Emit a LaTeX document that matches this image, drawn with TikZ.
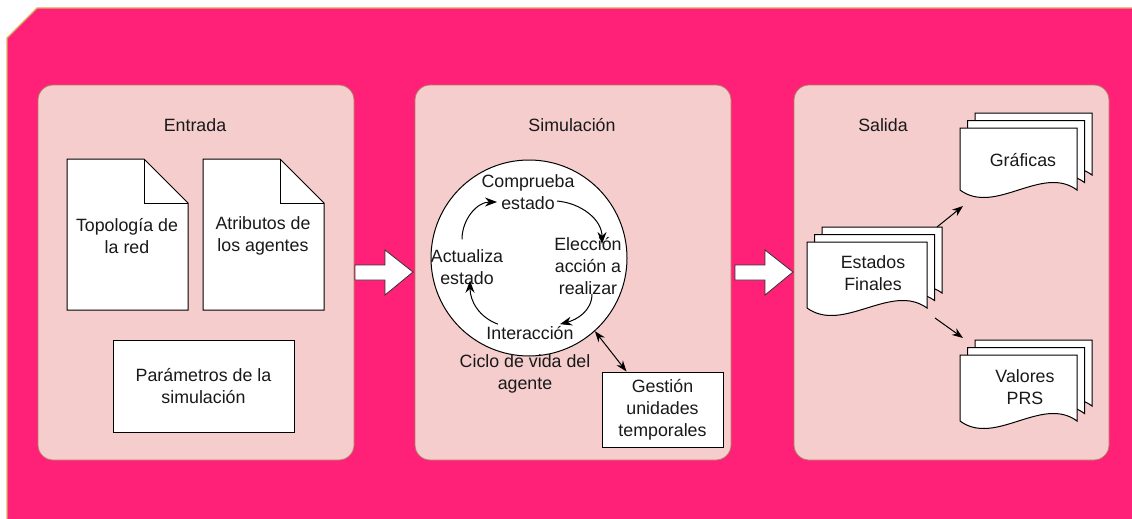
\documentclass[tikz,border=0pt]{standalone}
\usepackage{fontspec}
\setmainfont{Liberation Sans}
\usetikzlibrary{arrows.meta}

\definecolor{fondo}{RGB}{255,32,120}
\definecolor{fondoborde}{RGB}{214,182,96}
\definecolor{panel}{RGB}{245,205,205}
\definecolor{panelborde}{RGB}{184,120,100}

\tikzset{
  panelbox/.style={draw=panelborde, fill=panel, rounded corners=15pt, line width=0.8pt},
  pagebox/.style={draw=black, fill=white, line width=1pt},
  txt/.style={font=\fontsize{17.8}{22}\selectfont, align=center, inner sep=2pt, text=black!90},
  box/.style={txt, draw=black, fill=white, line width=1pt},
  cyc/.style={-{Stealth[length=12pt,width=9pt]}, line width=1pt},
  flecha/.style={-{Stealth[length=11pt,width=8pt]}, line width=1pt},
}

% page with folded corner (x,y = top left)
\newcommand{\foldpage}[2]{%
  \draw[pagebox] (#1,#2) -- ++(77,0) -- ++(44,44) -- ++(0,107) -- ++(-121,0) -- cycle;
  \draw[pagebox, fill=none] (#1+77,#2) -- ++(0,44) -- ++(44,0);}
% page with wavy bottom (x,y,w,h)
\newcommand{\docpage}[4]{%
  \draw[pagebox] (#1,#2) -- ++(#3,0) -- ++(0,#4-8)
    .. controls +(-0.3*#3,-26) and +(0.3*#3,26) .. ++(-#3,0) -- cycle;}
\newcommand{\multidoc}[4]{%
  \docpage{#1+15}{#2-15}{#3}{#4}
  \docpage{#1+7.5}{#2-7.5}{#3}{#4}
  \docpage{#1}{#2}{#3}{#4}}

\begin{document}
\begin{tikzpicture}[x=1pt, y=-1pt]
\useasboundingbox (0,0) rectangle (1132,519);
\fill[white] (0,0) rectangle (1132,519);
% background
\fill[fondo] (7,38) -- (37,8) -- (1132,8) -- (1132,519) -- (7,519) -- cycle;
\draw[fondoborde, line width=1.2pt] (7,519) -- (7,38) -- (37,8) -- (1132,8);

% panels
\draw[panelbox] (38,85) rectangle (354,460);
\draw[panelbox] (415,85) rectangle (731,460);
\draw[panelbox] (794,85) rectangle (1109,460);

% big arrows
\foreach \x in {355,735}
  \draw[fill=white, draw=black!80, line width=0.8pt] (\x,265) -- ++(30,0) -- ++(0,-15)
    -- ++(28,22) -- ++(-28,23) -- ++(0,-15) -- ++(-30,0) -- cycle;

% Entrada
\node[txt] (tentrada) at (195,125) {Entrada};
\foldpage{67}{159}
\foldpage{203}{159}
\node[txt] (topologia) at (127,236) {Topología de\\la red};
\node[txt] (atributos) at (263,236) {Atributos de\\los agentes};
\node[box, minimum width=181pt, minimum height=92pt] (param) at (203.5,386) {Parámetros de la\\simulación};

% Simulacion
\node[txt] (tsimulacion) at (572,125) {Simulación};
\node[circle, draw=black, fill=white, line width=1pt, minimum size=196pt] (ciclo) at (529,258) {};
\node[txt] (comp) at (528,192) {Comprueba\\estado};
\node[txt] (act) at (467,267) {Actualiza\\estado};
\node[txt] (ele) at (588,266) {Elección\\acción a\\realizar};
\node[txt] (inter) at (530,333) {Interacción};
\node[txt] (tciclo) at (525,374) {Ciclo de vida del\\agente};
\node[box, minimum width=121pt, minimum height=75pt] (gestion) at (662.5,409.5) {Gestión\\unidades\\temporales};

\draw[cyc] ([xshift=-5pt,yshift=8pt]act.north) to[out=90,in=180] ([xshift=-31pt,yshift=-10pt]comp.center);
\draw[cyc] ([xshift=29pt,yshift=-9pt]comp.center) to[out=-5,in=90] ([xshift=14pt,yshift=22pt]ele.center);
\draw[cyc] ([xshift=4pt,yshift=3pt]ele.south) to[out=-90,in=15] ([xshift=30pt]inter.north);
\draw[cyc] ([xshift=-32pt]inter.north) to[out=160,in=-90] ([xshift=3pt,yshift=6pt]act.south);
\draw[{Stealth[length=11pt,width=8pt]}-{Stealth[length=11pt,width=8pt]}, line width=1pt] (ciclo.-48) -- ([xshift=-36pt]gestion.north);

% Salida
\node[txt] (tsalida) at (883,125) {Salida};
\multidoc{807}{242}{120}{74}
\multidoc{960}{128}{117}{70}
\multidoc{960}{355}{117}{74}
\node[txt] (estados) at (873,273) {Estados\\Finales};
\node[txt] (graficas) at (1023,160) {Gráficas};
\node[txt] (valores) at (1025,387) {Valores\\PRS};
\draw[flecha] ([xshift=64pt,yshift=46pt]estados.center) -- ([xshift=-60pt,yshift=-46pt]graficas.center);
\draw[flecha] ([xshift=62pt,yshift=-45pt]estados.center) -- ([xshift=-62pt,yshift=49pt]valores.center);
\end{tikzpicture}
\end{document}
